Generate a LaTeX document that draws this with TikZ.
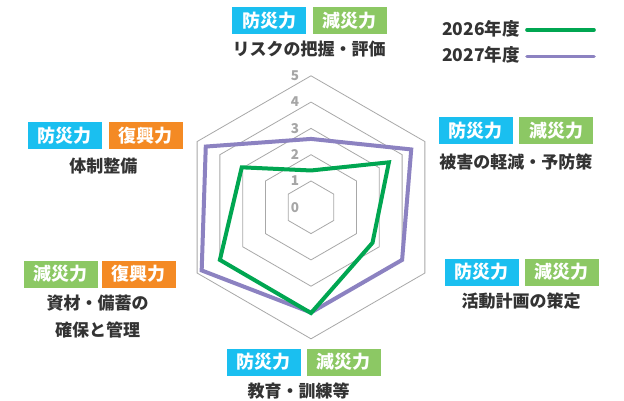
\documentclass[tikz,border=0pt]{standalone}
\usepackage{fontspec}
\setmainfont{Noto Sans CJK JP}
\definecolor{tagblue}{HTML}{1ABFF0}
\definecolor{taggreen}{HTML}{8CC864}
\definecolor{tagorange}{HTML}{F48A24}
\definecolor{line26}{HTML}{00A651}
\definecolor{line27}{HTML}{8C82C1}
\definecolor{gridgray}{HTML}{A8A8A8}
\definecolor{numgray}{HTML}{A6A6A6}
\definecolor{txt}{HTML}{333333}
\begin{document}
\begin{tikzpicture}[x=1pt,y=-1pt,
  tag/.style={rectangle, minimum width=74pt, minimum height=27pt, inner sep=0pt,
    text=white, font=\fontsize{18}{18}\selectfont\bfseries},
  bou/.style={tag, fill=tagblue},
  gen/.style={tag, fill=taggreen},
  fuk/.style={tag, fill=tagorange},
  axlabel/.style={text=txt, font=\fontsize{17}{26.5}\selectfont\bfseries, align=center, inner sep=0pt},
  legtext/.style={text=txt, font=\fontsize{17.5}{20}\selectfont\bfseries, inner sep=0pt, anchor=east},
  legline/.style={line width=3.6pt, line cap=round},
  grid/.style={draw=gridgray, line width=0.8pt},
  numlab/.style={text=numgray, font=\fontsize{13.5}{14}\selectfont\bfseries, inner sep=0pt},
  series/.style={line width=4pt, line join=miter}
]
\path[use as bounding box, fill=white] (0,0) rectangle (624,401);

% radar chart
\begin{scope}[shift={(311,207.3)}, x=1pt, y=1pt]
  \def\u{26.3}
  \foreach \k in {1,...,5}{
    \draw[grid] (90:\k*\u) -- (30:\k*\u) -- (-30:\k*\u) -- (-90:\k*\u) -- (-150:\k*\u) -- (150:\k*\u) -- cycle;
  }
  \foreach \k in {0,...,5}{
    \node[numlab] (n\k) at (-16,\k*\u) {\k};
  }
  \draw[series, draw=line27] (90:2.6*\u) -- (30:4.4*\u) -- (-30:4.0*\u) -- (-90:4.0*\u) -- (-150:4.8*\u) -- (150:4.62*\u) -- cycle;
  \draw[series, draw=line26] (90:1.4*\u) -- (30:3.42*\u) -- (-30:2.7*\u) -- (-90:4.02*\u) -- (-150:4.0*\u) -- (150:3.04*\u) -- cycle;
\end{scope}

% top axis
\node[bou] (t1) at (269,20.8) {防災力};
\node[gen] (t2) at (349.7,20.8) {減災力};
\node[axlabel] (tl) at (309,49) {リスクの把握・評価};

% upper-right axis
\node[bou] (ur1) at (475.8,130.5) {防災力};
\node[gen] (ur2) at (556,130.5) {減災力};
\node[axlabel] (url) at (515.8,161.7) {被害の軽減・予防策};

% lower-right axis
\node[bou] (lr1) at (481.8,272) {防災力};
\node[gen] (lr2) at (561.8,272) {減災力};
\node[axlabel] (lrl) at (521,301) {活動計画の策定};

% bottom axis
\node[bou] (b1) at (263.7,362) {防災力};
\node[gen] (b2) at (343.7,362) {減災力};
\node[axlabel] (bl) at (298.7,391) {教育・訓練等};

% lower-left axis
\node[gen] (ll1) at (60.7,274) {減災力};
\node[fuk] (ll2) at (138.8,274) {復興力};
\node[axlabel] (lll) at (97.5,316.7) {資材・備蓄の\\確保と管理};

% upper-left axis
\node[bou] (ul1) at (64.7,135.8) {防災力};
\node[fuk] (ul2) at (145.8,135.8) {復興力};
\node[axlabel] (ull) at (103.3,165.7) {体制整備};

% legend
\node[legtext] (lg1) at (520,29) {2026年度};
\node[legtext] (lg2) at (520,55) {2027年度};
\coordinate (lg1a) at (527,30);
\coordinate (lg1b) at (594,30);
\coordinate (lg2a) at (527,56.5);
\coordinate (lg2b) at (594,56.5);
\draw[legline, draw=line26] (lg1a) -- (lg1b);
\draw[legline, draw=line27] (lg2a) -- (lg2b);
\end{tikzpicture}
\end{document}
